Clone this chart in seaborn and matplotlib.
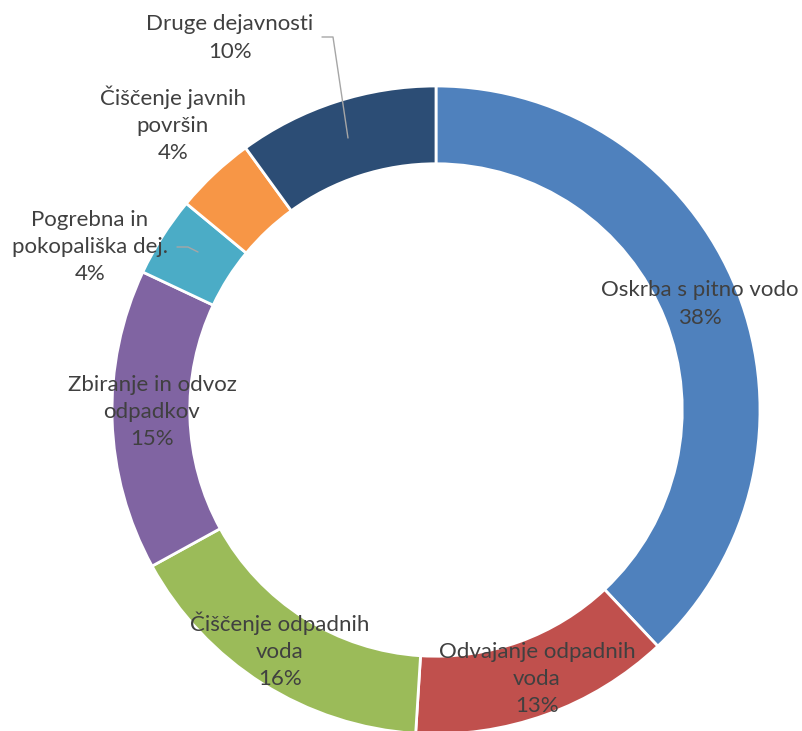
import matplotlib
matplotlib.use("Agg")
import matplotlib.pyplot as plt
import seaborn as sns

categories = ["Oskrba s pitno vodo", "Odvajanje odpadnih\nvoda", "Čiščenje odpadnih\nvoda",
              "Zbiranje in odvoz\nodpadkov", "Pogrebna in\npokopališka dej.",
              "Čiščenje javnih\npovršin", "Druge dejavnosti"]
shares = [38, 13, 16, 15, 4, 4, 10]
colors = ["#4F81BD", "#C0504D", "#9BBB59", "#8064A2", "#4BACC6", "#F79646", "#2C4D75"]

# label centres in pixel coords (x, y from top)
label_pos = [(700, 304), (537, 679), (280, 650), (152, 412), (90, 247), (173, 124), (230, 38)]

sns.set_theme(style="white")
plt.rcParams['font.family'] = ['Lato', 'DejaVu Sans']

W, H = 802, 731
fig = plt.figure(figsize=(W / 100, H / 100), dpi=100)
ax = fig.add_axes([0, 0, 1, 1])

R = 324
cx, cy = 436, H - 410
ax.pie(shares, colors=colors, startangle=90, counterclock=False,
       center=(cx, cy), radius=R, frame=True,
       wedgeprops=dict(width=R * 0.24, edgecolor="white", linewidth=2))
ax.set_xlim(0, W)
ax.set_ylim(0, H)
ax.set_aspect("auto")
ax.axis("off")

# leader lines
ax.plot([322, 333, 348], [H - 37, H - 37, H - 138], color="#A6A6A6", lw=1)
ax.plot([177, 188, 198], [H - 247, H - 247, H - 252], color="#A6A6A6", lw=1)

for name, val, (x, y) in zip(categories, shares, label_pos):
    ax.text(x, H - y, f"{name}\n{val}%", ha="center", va="center",
            fontsize=16, color="#404040", linespacing=1.45)

fig.savefig("out.png", dpi=100)
